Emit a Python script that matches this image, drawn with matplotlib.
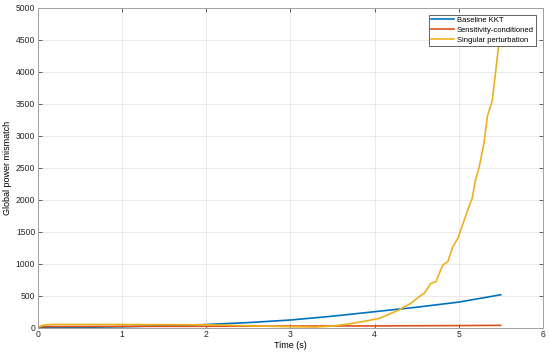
import numpy as np
import matplotlib.pyplot as plt

plt.rcParams['font.family'] = ['Liberation Sans', 'DejaVu Sans']

# Data
t_base = [0, 0.5, 1, 1.5, 2, 2.5, 3, 3.5, 4, 4.5, 5, 5.5]
baseline = [0, 5, 15, 30, 50, 80, 120, 180, 250, 320, 400, 515]

t_sens = [0, 0.1, 1, 2, 3, 4, 5, 5.5]
sensitivity = [10, 18, 20, 22, 25, 28, 33, 37]

t_sing = [0, 0.08, 0.2, 1, 1.5, 2, 2.5, 3, 3.3, 3.5, 3.7, 3.9, 4.06, 4.29, 4.43,
          4.53, 4.59, 4.67, 4.73, 4.81, 4.87, 4.93, 4.99, 5.10, 5.16, 5.20,
          5.24, 5.30, 5.34, 5.40, 5.48, 5.5]
singular = [10, 45, 52, 50, 48, 45, 30, 15, 10, 25, 60, 105, 147, 277, 381,
            484, 537, 693, 719, 980, 1031, 1266, 1397, 1813, 2022, 2308,
            2491, 2881, 3297, 3558, 4470, 4750]

fig = plt.figure(figsize=(5.5, 3.56), dpi=100)
ax = fig.add_axes([0.069, 0.0795, 0.918, 0.8985])

ax.plot(t_base, baseline, color='#0072BD', lw=1.2, label='Baseline KKT')
ax.plot(t_sens, sensitivity, color='#D95319', lw=1.2, label='Sensitivity-conditioned')
ax.plot(t_sing, singular, color='#EDB120', lw=1.2, label='Singular perturbation')

ax.set_xlim(0, 6)
ax.set_ylim(0, 5000)
ax.set_xticks(range(0, 7))
ax.set_yticks(range(0, 5001, 500))
ax.grid(True, color='#e6e6e6', lw=0.6)
ax.set_axisbelow(True)
ax.tick_params(direction='in', top=True, right=True, labelsize=6.2,
               length=3, width=0.5, color='#262626', labelcolor='#262626', pad=2)
for s in ax.spines.values():
    s.set_color('#a0a0a0')
    s.set_linewidth(0.7)

ax.set_xlabel('Time (s)', fontsize=6.5, labelpad=1)
ax.set_ylabel('Global power mismatch', fontsize=6.5, labelpad=3)

leg = ax.legend(loc='upper right', fontsize=5.5, fancybox=False, framealpha=1,
                edgecolor='#262626', borderpad=0.25, labelspacing=0.35,
                handlelength=3.0, handletextpad=0.4, borderaxespad=0.9)
leg.get_frame().set_linewidth(0.5)

fig.savefig('out.png', dpi=100)
